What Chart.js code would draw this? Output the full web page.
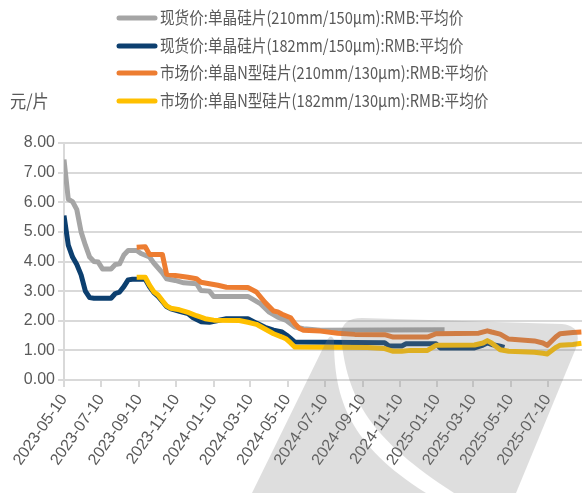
<!DOCTYPE html>
<html>
<head>
<meta charset="utf-8">
<script src="https://cdn.jsdelivr.net/npm/chart.js@4"></script>
<style>
html,body{margin:0;padding:0;background:#fff;}
#wrap{width:582px;height:493px;}
</style>
</head>
<body>
<div id="wrap"><canvas id="c" width="582" height="493"></canvas></div>
<script>
const seriesNames = [
  '现货价:单晶硅片(210mm/150μm):RMB:平均价',
  '现货价:单晶硅片(182mm/150μm):RMB:平均价',
  '市场价:单晶N型硅片(210mm/130μm):RMB:平均价',
  '市场价:单晶N型硅片(182mm/130μm):RMB:平均价'
];
const unitLabel = '元/片';
const xTickDates = ['2023-05-10','2023-07-10','2023-09-10','2023-11-10','2024-01-10','2024-03-10','2024-05-10','2024-07-10','2024-09-10','2024-11-10','2025-01-10','2025-03-10','2025-05-10','2025-07-10'];
const yTicks = [0,1,2,3,4,5,6,7,8];

const grayDates = ['2023-05-10','2023-05-17','2023-05-24','2023-05-31','2023-06-07','2023-06-14','2023-06-21','2023-06-28','2023-07-05','2023-07-12','2023-07-26','2023-08-02','2023-08-09','2023-08-16','2023-08-23','2023-09-06','2023-09-13','2023-09-27','2023-10-04','2023-10-18','2023-10-25','2023-11-08','2023-11-22','2023-12-13','2023-12-20','2024-01-03','2024-01-10','2024-03-06','2024-03-27','2024-04-10','2024-04-24','2024-05-08','2024-05-22','2024-06-05','2024-07-03','2025-01-22'];
const grayValues = [7.44,6.10,6.02,5.75,5.00,4.55,4.15,4.00,3.98,3.75,3.75,3.90,3.92,4.22,4.37,4.37,4.27,4.15,3.95,3.62,3.42,3.36,3.28,3.25,3.02,3.00,2.82,2.82,2.57,2.29,2.12,2.01,1.79,1.73,1.68,1.70];

const blueDates = ['2023-05-10','2023-05-17','2023-05-24','2023-05-31','2023-06-07','2023-06-14','2023-06-21','2023-06-28','2023-07-26','2023-08-02','2023-08-09','2023-08-16','2023-08-23','2023-08-30','2023-09-20','2023-09-27','2023-10-04','2023-10-11','2023-10-18','2023-10-25','2023-11-01','2023-11-15','2023-11-29','2023-12-06','2023-12-20','2024-01-03','2024-01-17','2024-01-31','2024-03-06','2024-03-20','2024-04-03','2024-04-17','2024-05-01','2024-05-08','2024-05-15','2024-05-22','2024-10-16','2024-10-23','2024-11-13','2024-11-20','2025-01-08','2025-01-15','2025-03-12','2025-03-26','2025-04-02','2025-04-09','2025-04-23','2025-04-30'];
const blueValues = [5.55,4.55,4.15,3.90,3.55,3.00,2.78,2.76,2.76,2.92,2.97,3.15,3.38,3.40,3.40,3.15,2.95,2.82,2.65,2.48,2.40,2.32,2.24,2.12,1.97,1.95,2.01,2.07,2.07,1.92,1.78,1.68,1.62,1.52,1.40,1.28,1.26,1.15,1.15,1.22,1.22,1.08,1.08,1.18,1.25,1.20,1.14,1.10];

const orangeDates = ['2023-09-06','2023-09-20','2023-09-27','2023-10-18','2023-10-25','2023-11-08','2023-11-29','2023-12-13','2023-12-20','2024-01-03','2024-01-17','2024-01-31','2024-03-06','2024-03-20','2024-04-03','2024-04-17','2024-04-24','2024-05-01','2024-05-15','2024-05-22','2024-05-29','2024-06-05','2024-07-03','2024-07-31','2024-08-28','2024-10-16','2024-10-30','2024-12-25','2025-01-08','2025-03-19','2025-04-02','2025-04-09','2025-04-23','2025-05-07','2025-06-18','2025-07-02','2025-07-09','2025-07-23','2025-07-30','2025-08-20','2025-09-03'];
const orangeValues = [4.48,4.50,4.24,4.24,3.57,3.53,3.47,3.42,3.30,3.25,3.20,3.13,3.12,2.97,2.62,2.33,2.30,2.22,2.10,1.90,1.75,1.68,1.65,1.58,1.54,1.53,1.45,1.45,1.56,1.58,1.66,1.62,1.55,1.38,1.32,1.25,1.17,1.45,1.56,1.60,1.62];

const yellowDates = ['2023-09-06','2023-09-20','2023-09-27','2023-10-04','2023-10-11','2023-10-18','2023-10-25','2023-11-01','2023-11-15','2023-11-29','2023-12-13','2023-12-27','2024-01-10','2024-02-21','2024-03-06','2024-03-20','2024-04-03','2024-04-17','2024-05-01','2024-05-08','2024-05-15','2024-05-22','2024-09-18','2024-10-16','2024-10-30','2024-11-13','2024-11-27','2024-12-25','2025-01-08','2025-03-12','2025-03-26','2025-04-02','2025-04-09','2025-04-23','2025-05-07','2025-06-18','2025-07-02','2025-07-09','2025-07-23','2025-07-30','2025-08-20','2025-09-03'];
const yellowValues = [3.47,3.47,3.20,2.98,2.87,2.68,2.50,2.42,2.37,2.28,2.17,2.07,2.02,2.01,1.95,1.88,1.72,1.56,1.45,1.38,1.25,1.11,1.10,1.06,0.97,0.97,1.00,1.00,1.17,1.18,1.25,1.33,1.25,1.02,0.97,0.94,0.90,0.88,1.10,1.17,1.20,1.24];

const colors = ['#a5a5a5','#0c3f6f','#ed7d31','#ffc000'];

const BASE = Date.UTC(2023,4,10);
function days(s){const p=s.split('-').map(Number);return (Date.UTC(p[0],p[1]-1,p[2])-BASE)/86400000;}
function pts(ds,vs){return ds.map((d,i)=>({x:days(d),y:vs[i]}));}

const legendPlugin={
  id:'customLegend',
  afterDraw(chart){
    const ctx=chart.ctx;
    // faint watermark shape
    ctx.save();
    ctx.fillStyle='rgba(128,128,128,0.26)';
    ctx.beginPath();
    ctx.moveTo(252,493);
    ctx.lineTo(326,342);
    ctx.quadraticCurveTo(331,332,334,340);
    ctx.bezierCurveTo(334,400,350,445,426,493);
    ctx.closePath();
    ctx.fill();
    ctx.beginPath();
    ctx.moveTo(341,334);
    ctx.quadraticCurveTo(342,318,362,318);
    ctx.lineTo(562,324);
    ctx.quadraticCurveTo(583,326,576,348);
    ctx.lineTo(516,493);
    ctx.lineTo(454,493);
    ctx.bezierCurveTo(372,440,346,400,341,334);
    ctx.closePath();
    ctx.fill();
    ctx.restore();

    const rows=[18,46,73,101];
    ctx.save();
    ctx.textBaseline='middle';
    ctx.fillStyle='#595959';
    ctx.font='17px "Noto Sans CJK SC"';
    seriesNames.forEach((n,i)=>{
      const y=rows[i];
      ctx.beginPath();
      ctx.lineCap='round';
      ctx.lineWidth=5;
      ctx.strokeStyle=colors[i];
      ctx.moveTo(119,y);ctx.lineTo(155,y);ctx.stroke();
      ctx.save();
      ctx.translate(160,y);
      ctx.scale(0.86,1);
      ctx.fillText(n,0,0);
      ctx.restore();
    });
    ctx.save();
    ctx.translate(10,rows[3]);
    ctx.scale(0.9,1);
    ctx.font='18px "Noto Sans CJK SC"';
    ctx.fillText(unitLabel,0,0);
    ctx.restore();
    ctx.restore();
  }
};

function ds(label,data,color,order){
  return {label,data,borderColor:color,backgroundColor:color,borderWidth:5,pointRadius:0,tension:0,order,borderJoinStyle:'round',borderCapStyle:'butt'};
}

new Chart(document.getElementById('c'),{
  type:'line',
  data:{datasets:[
    ds(seriesNames[0],pts(grayDates,grayValues),colors[0],4),
    ds(seriesNames[1],pts(blueDates,blueValues),colors[1],3),
    ds(seriesNames[2],pts(orangeDates,orangeValues),colors[2],2),
    ds(seriesNames[3],pts(yellowDates,yellowValues),colors[3],1)
  ]},
  options:{
    responsive:false,
    animation:false,
    layout:{padding:{top:143,right:0,left:0,bottom:0}},
    plugins:{legend:{display:false},tooltip:{enabled:false}},
    scales:{
      x:{
        type:'linear',
        min:0,max:848,
        afterBuildTicks(scale){scale.ticks=xTickDates.map(s=>({value:days(s)}));},
        afterFit(scale){scale.height=113;},
        grid:{drawOnChartArea:false,color:'#d9d9d9',lineWidth:2,tickLength:7},
        border:{color:'#d9d9d9',width:2},
        ticks:{autoSkip:false,maxRotation:55,minRotation:55,color:'#595959',padding:4,
          font:{family:'"Liberation Sans Narrow","Liberation Sans"',size:16},
          callback(v){const i=xTickDates.findIndex(s=>days(s)===v);return i>=0?xTickDates[i]:'';}}
      },
      y:{
        min:0,max:8,
        afterBuildTicks(scale){scale.ticks=yTicks.map(v=>({value:v}));},
        afterFit(scale){scale.width=64;},
        grid:{color:'#d9d9d9',lineWidth:2,tickLength:6},
        border:{color:'#d9d9d9',width:2},
        ticks:{color:'#595959',padding:3,font:{family:'"Liberation Sans Narrow","Liberation Sans"',size:16},
          callback(v){return v.toFixed(2);}}
      }
    }
  },
  plugins:[legendPlugin]
});
</script>
</body>
</html>
